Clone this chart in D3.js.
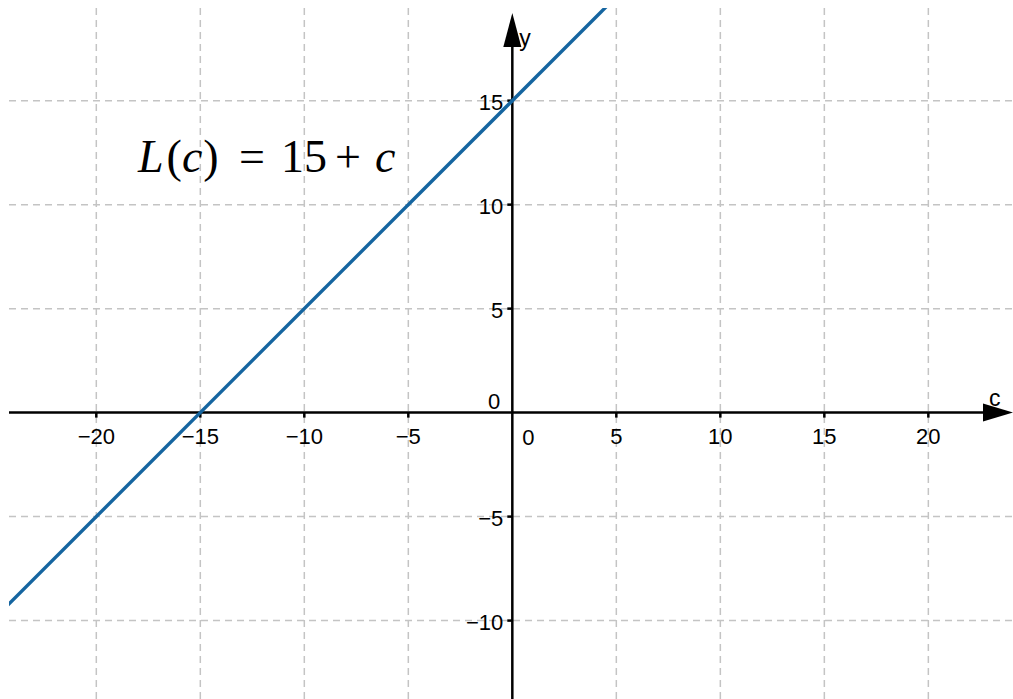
<!DOCTYPE html>
<html>
<head>
<meta charset="utf-8">
<script src="https://cdn.jsdelivr.net/npm/d3@7"></script>
<style>
  html, body { margin: 0; padding: 0; background: #fff; }
  svg { display: block; }
</style>
</head>
<body>
<svg id="chart" width="1013" height="699"></svg>
<script>
// tick values along each axis
const xTicks = [-20, -15, -10, -5, 5, 10, 15, 20];
const yTicks = [-10, -5, 5, 10, 15];
// L(c) = 15 + c, two points
const lineC = [-25, 5];
const lineL = [-10, 20];

const W = 1013, H = 699;
const plot = { left: 9, top: 8, right: W, bottom: H };

const x = d3.scaleLinear().domain([-24.63, 24.07]).range([0, W]);
const y = d3.scaleLinear().domain([19.84, -13.77]).range([0, H]);

const svg = d3.select('#chart');
const fmt = v => (v < 0 ? '\u2212' + Math.abs(v) : String(v));

svg.append('defs').append('clipPath').attr('id', 'clip')
  .append('rect')
    .attr('x', plot.left).attr('y', plot.top)
    .attr('width', plot.right - plot.left).attr('height', plot.bottom - plot.top);

// ---------- grid ----------
const grid = svg.append('g').attr('stroke', '#c4c4c4').attr('stroke-width', 1.5)
  .attr('stroke-dasharray', '7,5');

grid.selectAll('line.vx').data(xTicks).enter().append('line')
  .attr('x1', d => x(d)).attr('x2', d => x(d))
  .attr('y1', plot.top).attr('y2', plot.bottom);

grid.selectAll('line.hy').data(yTicks).enter().append('line')
  .attr('y1', d => y(d)).attr('y2', d => y(d))
  .attr('x1', plot.left).attr('x2', plot.right);

// ---------- axes ----------
const ax = svg.append('g');
const x0 = x(0), y0 = y(0);

ax.append('line')
  .attr('x1', plot.left).attr('x2', W - 20).attr('y1', y0).attr('y2', y0)
  .attr('stroke', '#000').attr('stroke-width', 2.5);
ax.append('path')
  .attr('d', `M${W},${y0} L${W - 30},${y0 - 9} L${W - 30},${y0 + 9} Z`)
  .attr('fill', '#000');

ax.append('line')
  .attr('x1', x0).attr('x2', x0).attr('y1', H).attr('y2', 30)
  .attr('stroke', '#000').attr('stroke-width', 2.5);
ax.append('path')
  .attr('d', `M${x0},13 L${x0 - 9},47 L${x0 + 9},47 Z`)
  .attr('fill', '#000');

// tick marks
ax.selectAll('line.xt').data(xTicks).enter().append('line')
  .attr('x1', d => x(d)).attr('x2', d => x(d))
  .attr('y1', y0).attr('y2', y0 + 5)
  .attr('stroke', '#000').attr('stroke-width', 2.5);
ax.selectAll('line.yt').data(yTicks).enter().append('line')
  .attr('y1', d => y(d)).attr('y2', d => y(d))
  .attr('x1', x0 - 5).attr('x2', x0)
  .attr('stroke', '#000').attr('stroke-width', 2.5);

// tick labels
const lab = svg.append('g')
  .attr('font-family', 'Liberation Sans, Arial, sans-serif')
  .attr('font-size', 22).attr('fill', '#000');

lab.selectAll('text.xl').data(xTicks).enter().append('text')
  .attr('x', d => x(d)).attr('y', y0 + 31)
  .attr('text-anchor', 'middle')
  .text(fmt);

lab.selectAll('text.yl').data(yTicks).enter().append('text')
  .attr('x', x0 - 9).attr('y', d => y(d) + 9)
  .attr('text-anchor', 'end')
  .text(fmt);

lab.append('text').attr('x', x0 + 10).attr('y', y0 + 32).text('0');
lab.append('text').attr('x', x0 - 12).attr('y', y0 - 4).attr('text-anchor', 'end').text('0');

lab.append('text').attr('x', x0 + 7).attr('y', 46).attr('font-size', 23).text('y');
lab.append('text').attr('x', W - 24).attr('y', 406).attr('font-size', 23).text('c');

// ---------- function line ----------
svg.append('line')
  .attr('clip-path', 'url(#clip)')
  .attr('x1', x(lineC[0])).attr('y1', y(lineL[0]))
  .attr('x2', x(lineC[1])).attr('y2', y(lineL[1]))
  .attr('stroke', '#1565a0').attr('stroke-width', 3.4);

// ---------- formula label ----------
const f = svg.append('text')
  .attr('x', 138).attr('y', 172)
  .attr('font-family', 'Liberation Serif, Times New Roman, serif')
  .attr('font-size', 46).attr('fill', '#000');
f.append('tspan').attr('font-style', 'italic').text('L');
f.append('tspan').attr('dx', 3).text('(');
f.append('tspan').attr('font-style', 'italic').text('c');
f.append('tspan').attr('dx', 1).text(')');
f.append('tspan').attr('x', 239).text('=');
f.append('tspan').attr('x', 281).text('15');
f.append('tspan').attr('x', 335).text('+');
f.append('tspan').attr('x', 375).attr('font-style', 'italic').text('c');
</script>
</body>
</html>
